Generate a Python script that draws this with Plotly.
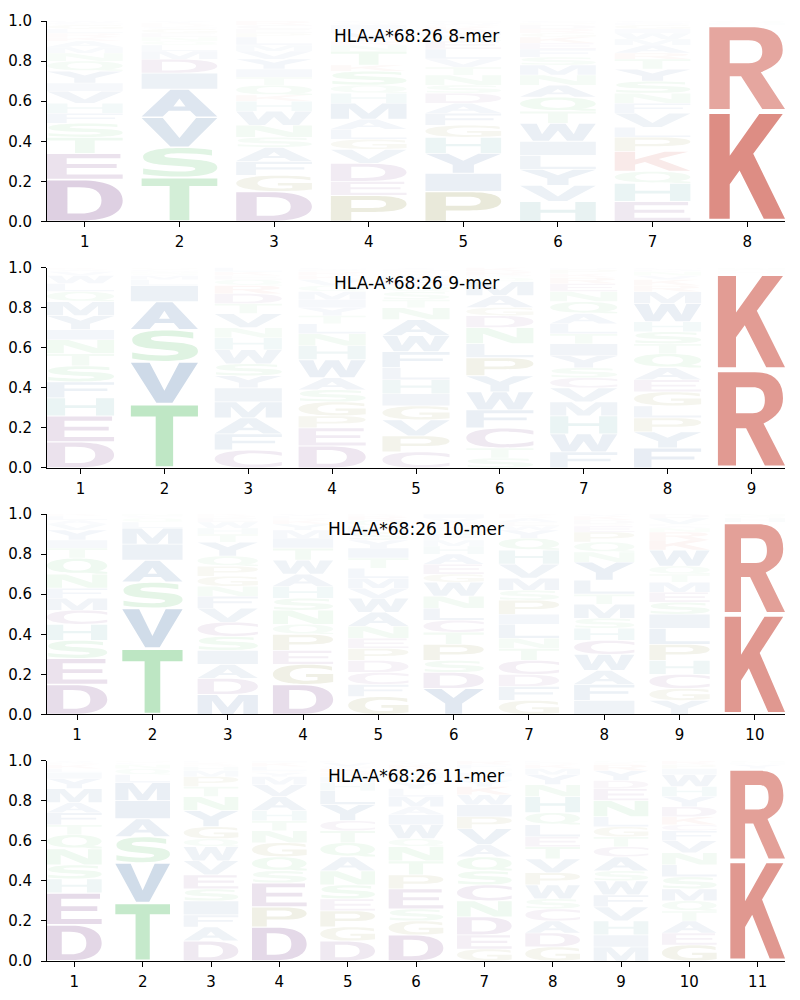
import re
import plotly.graph_objects as go
from plotly.subplots import make_subplots

ALLELE = "HLA-A*68:26"
LENGTHS = [8, 9, 10, 11]

# each string is one position, letters listed bottom -> top with their frequency
MER_8 = [
    "D.21 E.13 T.08 S.07 F.05 H.05 V.06 I.04 Y.06 Q.05 N.04 M.03 A.03 K.02 R.02 L.02 G.02 C.01 W.01",
    "T.22 S.15 V.15 A.14 I.08 D.07 M.04 L.03 Q.02 N.02 E.02 G.02 C.01 R.01 K.01 Y.01",
    "D.15 G.08 F.07 A.07 S.05 N.06 W.07 H.05 K.03 Q.05 T.04 I.04 Y.05 V.04 M.03 L.04 P.02 E.02 C.02 R.02",
    "P.13 E.07 D.09 V.07 G.05 L.05 A.05 M.08 H.05 Q.04 S.07 K.03 T.07 N.03 R.02 Y.04 F.02 I.02 W.01 C.01",
    "P.15 I.09 Y.10 H.08 G.06 F.06 A.05 D.05 S.04 N.05 T.04 V.04 L.05 E.04 Q.03 M.02 K.02 R.01 W.01 C.01",
    "H.10 V.08 Y.08 L.07 I.07 W.09 T.06 Q.07 A.06 N.05 M.05 S.04 F.04 E.03 K.03 G.02 R.02 D.02 P.01 C.01",
    "E.10 H.09 Q.06 K.10 P.07 L.05 V.07 F.05 N.05 S.06 Y.06 T.05 R.03 A.04 M.03 W.03 I.02 G.02 D.01 C.01",
    "K.55 R.43 H.01 Q.01",
]
MER_9 = [
    "D.13 E.13 H.09 F.08 S.08 T.06 N.07 I.05 Y.07 M.07 Q.05 L.04 W.04 V.02 A.01 K.01",
    "T.32 V.21 S.16 A.14 I.08 L.03 M.02 Q.01 N.01 C.01 G.01",
    "C.09 F.08 A.08 M.08 I.07 Y.06 S.06 W.07 H.06 N.05 V.07 T.05 D.05 R.04 Q.03 E.02 K.02 L.02",
    "D.11 E.09 P.06 G.07 S.06 A.06 W.09 H.07 N.06 L.05 T.04 Y.04 I.04 M.04 Q.03 V.03 K.02 R.02 F.01 C.01",
    "C.08 P.08 V.08 G.07 I.06 H.07 L.06 F.08 W.08 A.08 N.06 T.04 S.04 Q.03 E.03 M.02 K.01 R.01 D.01 Y.01",
    "S.05 T.05 C.10 F.09 W.09 Y.08 P.09 L.07 N.08 D.06 G.04 A.06 M.07 Q.02 E.01 R.02 K.02",
    "F.08 W.09 H.09 M.07 V.07 C.05 S.05 Y.06 I.06 T.05 L.05 A.05 Q.06 N.05 E.04 R.03 K.02 P.02 D.01",
    "F.10 Y.08 P.07 L.06 G.07 E.06 A.06 Q.07 T.05 S.06 H.05 W.09 M.06 R.03 K.03 V.02 N.02 D.01 C.01",
    "R.49 K.48 H.01 Q.01 N.01",
]
MER_10 = [
    "D.15 E.13 S.09 H.08 C.07 M.06 F.05 N.07 Q.08 T.05 I.04 Y.05 V.03 A.02 L.02 K.01",
    "T.33 V.20 S.13 A.11 I.08 M.08 L.03 Q.02 C.01 N.01",
    "M.10 D.08 A.07 I.07 S.07 C.07 V.07 F.06 N.05 G.05 P.05 Q.05 Y.07 T.04 H.03 W.03 E.02 R.01 K.01",
    "D.15 G.10 E.07 P.08 Q.05 N.07 S.06 H.06 A.06 W.07 T.06 I.05 M.04 Y.03 K.02 R.01 L.01 V.01",
    "G.09 F.06 C.06 D.06 P.06 E.05 N.06 A.07 W.07 V.05 M.05 L.05 T.05 I.05 Y.04 S.04 H.03 Q.03 R.02 K.01",
    "Y.13 D.08 S.06 P.08 T.06 C.06 L.06 N.06 W.07 G.04 E.05 A.05 H.04 M.03 F.03 Q.02 K.02 R.02 V.02 I.02",
    "G.07 F.07 D.06 C.07 T.06 N.05 L.07 I.05 P.07 S.05 M.06 V.07 H.07 Q.06 Y.04 W.02 E.02 A.02 K.01 R.01",
    "I.07 F.08 A.07 W.08 C.07 H.06 S.05 M.07 T.05 L.07 Y.09 N.05 Q.05 P.05 E.03 R.01 D.02 K.02 V.01",
    "Y.07 G.06 C.07 H.07 P.08 L.08 I.07 S.06 E.05 M.05 T.04 Q.04 W.08 K.05 R.04 N.02 A.01 F.01 V.03 D.02",
    "K.50 R.46 H.02 Q.01 N.01",
]
MER_11 = [
    "D.18 E.16 H.07 S.07 N.08 Q.07 T.05 F.06 A.05 M.07 Y.05 I.03 L.02 K.02 R.01 V.01",
    "T.29 V.20 S.13 A.09 I.09 M.09 L.04 Q.03 N.02 C.01 G.01",
    "D.10 A.07 F.06 I.07 S.06 E.07 V.07 W.07 Q.04 G.06 Y.08 N.07 T.05 P.05 M.03 H.02 R.01 K.01 L.01",
    "D.17 P.10 E.12 S.06 Q.07 G.07 N.06 T.05 H.05 A.07 V.06 M.04 Y.02 R.01 L.02 K.02 I.01",
    "D.10 G.07 P.08 E.06 S.07 N.07 A.07 Q.07 T.06 C.05 Y.08 L.07 H.04 M.03 R.02 K.02 W.01 V.02 F.01",
    "D.13 G.07 S.06 E.10 P.07 T.07 N.07 Q.04 W.07 I.05 A.04 M.05 L.04 Y.03 F.03 H.02 R.02 K.02 V.01 C.01",
    "G.06 E.07 D.09 N.08 C.08 S.07 Q.07 A.06 V.08 P.06 I.06 W.05 K.04 Y.03 L.02 M.02 T.01 H.01 F.02 R.02",
    "G.07 D.07 A.06 C.06 S.05 W.07 P.06 V.07 T.06 E.05 L.06 Q.06 H.08 N.06 Y.05 M.03 K.02 R.01 F.01",
    "M.07 I.06 H.07 V.07 F.06 W.07 S.05 A.07 C.05 T.05 G.05 L.05 N.08 E.06 D.04 Y.05 R.03 K.01 Q.01",
    "G.08 E.06 A.06 T.05 Q.05 M.06 S.06 L.06 N.06 V.06 F.05 C.03 K.04 D.05 Y.05 H.05 W.06 I.03 P.02 R.02",
    "K.50 R.46 Y.02 H.01 Q.01",
]
LOGOS = [MER_8, MER_9, MER_10, MER_11]

# residue colour groups
GROUP_COLORS = {
    "acidic": (98, 31, 117),
    "polar": (55, 180, 74),
    "hydrophobic": (22, 79, 145),
    "basic": (194, 48, 32),
    "his": (20, 130, 130),
    "special": (110, 110, 10),
}
GROUPS = {
    "acidic": "DEC", "polar": "STNQ", "hydrophobic": "AVILMFWY",
    "basic": "KR", "his": "H", "special": "PG",
}

# bold sans glyph outlines in a unit box (evenodd holes); several strings = separate pieces
GLYPHS = {
    "A": ["M0,0 L0.38,1 L0.62,1 L1,0 L0.72,0 L0.64,0.22 L0.36,0.22 L0.28,0 Z "
          "M0.42,0.38 L0.58,0.38 L0.5,0.68 Z"],
    "C": ["M1,0.12 C0.88,0.03 0.72,0 0.55,0 C0.2,0 0,0.2 0,0.5 C0,0.8 0.2,1 0.55,1 "
          "C0.72,1 0.88,0.97 1,0.88 L1,0.68 C0.88,0.78 0.74,0.83 0.58,0.83 "
          "C0.39,0.83 0.28,0.7 0.28,0.5 C0.28,0.3 0.39,0.17 0.58,0.17 C0.74,0.17 0.88,0.22 1,0.32 Z"],
    "D": ["M0,0 L0.45,0 C0.82,0 1,0.2 1,0.5 C1,0.8 0.82,1 0.45,1 L0,1 Z "
          "M0.27,0.17 L0.42,0.17 C0.63,0.17 0.72,0.28 0.72,0.5 C0.72,0.72 0.63,0.83 0.42,0.83 L0.27,0.83 Z"],
    "E": ["M0,0 L1,0 L1,0.17 L0.26,0.17 L0.26,0.43 L0.92,0.43 L0.92,0.59 L0.26,0.59 "
          "L0.26,0.83 L0.97,0.83 L0.97,1 L0,1 Z"],
    "F": ["M0,0 L0.26,0 L0.26,0.42 L0.9,0.42 L0.9,0.58 L0.26,0.58 L0.26,0.83 L1,0.83 L1,1 L0,1 Z"],
    "G": ["M1,0.1 C0.88,0.03 0.72,0 0.55,0 C0.2,0 0,0.2 0,0.5 C0,0.8 0.2,1 0.55,1 "
          "C0.72,1 0.88,0.97 0.98,0.9 L0.98,0.7 C0.86,0.79 0.73,0.83 0.58,0.83 "
          "C0.39,0.83 0.28,0.7 0.28,0.5 C0.28,0.3 0.39,0.17 0.58,0.17 C0.65,0.17 0.7,0.18 0.74,0.2 "
          "L0.74,0.36 L0.55,0.36 L0.55,0.52 L1,0.52 Z"],
    "H": ["M0,0 L0.27,0 L0.27,0.43 L0.73,0.43 L0.73,0 L1,0 L1,1 L0.73,1 L0.73,0.59 "
          "L0.27,0.59 L0.27,1 L0,1 Z"],
    "I": ["M0,0 L1,0 L1,1 L0,1 Z"],
    "K": ["M0,0 L0.27,0 L0.27,0.33 L0.4,0.46 L0.72,0 L1,0 L0.58,0.62 L0.97,1 L0.66,1 "
          "L0.27,0.6 L0.27,1 L0,1 Z"],
    "L": ["M0,0 L1,0 L1,0.17 L0.27,0.17 L0.27,1 L0,1 Z"],
    "M": ["M0,0 L0.24,0 L0.24,0.7 L0.41,0 L0.59,0 L0.76,0.7 L0.76,0 L1,0 L1,1 L0.68,1 "
          "L0.5,0.35 L0.32,1 L0,1 Z"],
    "N": ["M0,0 L0.25,0 L0.25,0.62 L0.68,0 L1,0 L1,1 L0.75,1 L0.75,0.38 L0.32,1 L0,1 Z"],
    "P": ["M0,0 L0.27,0 L0.27,0.36 L0.58,0.36 C0.86,0.36 1,0.48 1,0.68 C1,0.88 0.86,1 0.58,1 L0,1 Z "
          "M0.27,0.52 L0.55,0.52 C0.68,0.52 0.73,0.58 0.73,0.68 C0.73,0.78 0.68,0.84 0.55,0.84 L0.27,0.84 Z"],
    "Q": ["M0.5,0.06 C0.2,0.06 0,0.25 0,0.53 C0,0.81 0.2,1 0.5,1 C0.8,1 1,0.81 1,0.53 "
          "C1,0.25 0.8,0.06 0.5,0.06 Z M0.5,0.22 C0.35,0.22 0.27,0.34 0.27,0.53 "
          "C0.27,0.72 0.35,0.84 0.5,0.84 C0.65,0.84 0.73,0.72 0.73,0.53 C0.73,0.34 0.65,0.22 0.5,0.22 Z",
          "M0.62,0.1 L0.82,0 L1,0 L1,0.12 L0.8,0.2 Z"],
    "R": ["M0,0 L0.27,0 L0.27,0.4 L0.42,0.4 L0.7,0 L1,0 L0.68,0.45 C0.88,0.52 0.97,0.6 0.97,0.72 "
          "C0.97,0.9 0.84,1 0.55,1 L0,1 Z "
          "M0.27,0.56 L0.52,0.56 C0.65,0.56 0.7,0.62 0.7,0.7 C0.7,0.79 0.65,0.84 0.52,0.84 L0.27,0.84 Z"],
    "S": ["M0.02,0.08 C0.18,0.02 0.35,0 0.5,0 C0.82,0 1,0.12 1,0.32 C1,0.5 0.88,0.57 0.62,0.61 "
          "L0.48,0.64 C0.33,0.66 0.3,0.69 0.3,0.73 C0.3,0.79 0.38,0.82 0.52,0.82 "
          "C0.66,0.82 0.8,0.79 0.93,0.74 L0.93,0.93 C0.8,0.98 0.66,1 0.52,1 "
          "C0.2,1 0.02,0.88 0.02,0.69 C0.02,0.5 0.14,0.44 0.4,0.39 L0.54,0.36 "
          "C0.68,0.34 0.71,0.31 0.71,0.27 C0.71,0.21 0.62,0.18 0.48,0.18 C0.33,0.18 0.17,0.22 0.02,0.28 Z"],
    "T": ["M0,1 L1,1 L1,0.82 L0.63,0.82 L0.63,0 L0.37,0 L0.37,0.82 L0,0.82 Z"],
    "V": ["M0,1 L0.38,0 L0.62,0 L1,1 L0.72,1 L0.5,0.3 L0.28,1 Z"],
    "W": ["M0,1 L0.17,0 L0.38,0 L0.5,0.6 L0.62,0 L0.83,0 L1,1 L0.78,1 L0.71,0.38 L0.6,1 "
          "L0.4,1 L0.29,0.38 L0.22,1 Z"],
    "Y": ["M0,1 L0.36,0.42 L0.36,0 L0.64,0 L0.64,0.42 L1,1 L0.7,1 L0.5,0.64 L0.3,1 Z"],
}

WIDTH = 0.8
VPAD = 0.05


def parse(col):
    out = []
    for tok in col.split():
        out.append((tok[0], float(tok[1:])))
    return out


def letter_color(letter, p):
    for grp, letters in GROUPS.items():
        if letter in letters:
            base = GROUP_COLORS[grp]
    a = min(1.0, p)
    r, g, b = [round(255 - a * (255 - c)) for c in base]
    return f"rgb({r},{g},{b})"


def place(path, x0, x1, y0, y1):
    def sub(m):
        u, v = float(m.group(1)), float(m.group(2))
        return f"{x0 + u * (x1 - x0):.4f},{y0 + v * (y1 - y0):.4f}"
    return re.sub(r"(-?[\d.]+),(-?[\d.]+)", sub, path)


fig = make_subplots(rows=4, cols=1, vertical_spacing=0.049)

shapes = []
for row, (n, logo) in enumerate(zip(LENGTHS, LOGOS), start=1):
    sfx = "" if row == 1 else str(row)
    for pos, col in enumerate(logo, start=1):
        y = 0.0
        for letter, p in parse(col):
            gy0 = y + p * VPAD / 2
            gy1 = y + p * (1 - VPAD / 2)
            color = letter_color(letter, p)
            for piece in GLYPHS[letter]:
                shapes.append(dict(
                    type="path", xref="x" + sfx, yref="y" + sfx,
                    path=place(piece, pos - WIDTH / 2, pos + WIDTH / 2, gy0, gy1),
                    fillcolor=color, line=dict(width=0), layer="below",
                ))
            y += p
    fig.add_trace(go.Scatter(x=[], y=[], showlegend=False), row=row, col=1)
    fig.update_xaxes(range=[0.6, n + 0.4], tickvals=list(range(1, n + 1)), row=row, col=1)
    fig.add_annotation(text=f"{ALLELE} {n}-mer", xref=f"x{sfx} domain", yref=f"y{sfx} domain",
                       x=0.5, y=0.925, xanchor="center", yanchor="middle", showarrow=False,
                       font=dict(size=17, color="black"))

axis_style = dict(showline=True, linecolor="black", linewidth=1, ticks="outside", ticklen=5,
                  tickcolor="black", showgrid=False, zeroline=False, automargin=False,
                  tickfont=dict(family="DejaVu Sans, sans-serif", size=15, color="black"))
fig.update_xaxes(**axis_style, ticklabelstandoff=2)
fig.update_yaxes(**axis_style, ticklabelstandoff=6, range=[0, 1],
                 tickvals=[0, 0.2, 0.4, 0.6, 0.8, 1.0], tickformat=".1f")

fig.update_layout(
    width=800, height=1000, shapes=shapes,
    margin=dict(l=39, r=23, t=13, b=47),
    plot_bgcolor="white", paper_bgcolor="white",
    font=dict(family="DejaVu Sans", color="black"),
    showlegend=False,
)
fig.write_html("out.html")
